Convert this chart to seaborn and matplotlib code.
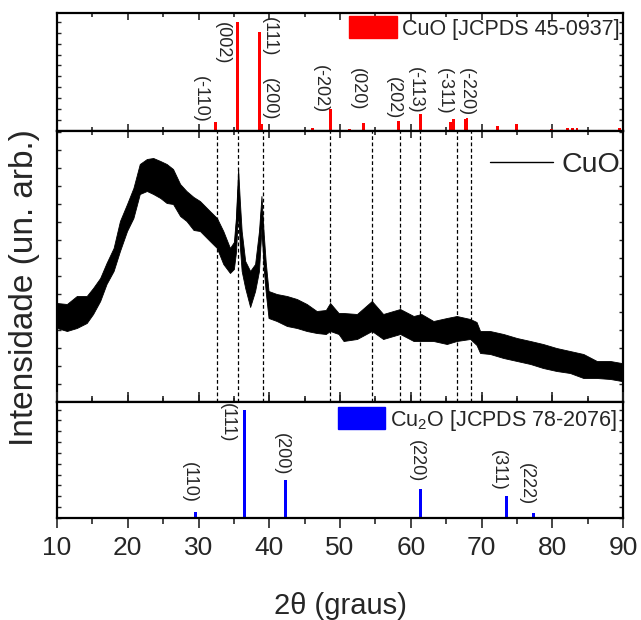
"""
XRD do filme de CuO com os padroes JCPDS de CuO e Cu2O.
"""
import numpy as np
import pandas as pd
import matplotlib
matplotlib.use("Agg")
import matplotlib.pyplot as plt
from matplotlib.patches import Patch
from matplotlib.lines import Line2D
from matplotlib.ticker import MultipleLocator
import seaborn as sns

# --- padrao CuO [JCPDS 45-0937] ---
cuo_pos = [32.45, 35.45, 38.65, 38.95, 46.1, 48.6, 51.3, 53.35, 58.25, 61.4, 65.6, 66.0,
           67.7, 67.95, 72.3, 75.0, 79.9, 82.1, 82.9, 83.5, 86.4, 89.5]
cuo_int = [8, 100, 91, 6, 2.5, 20, 1.5, 7, 9, 16, 8, 11, 11, 12, 5, 6, 2, 3, 2.5, 2.5, 1.2, 2.5]
cuo_lbl = ["(-110)", "(002)", "(111)", "(200)", "(-202)", "(020)", "(202)", "(-113)", "(-311)", "(-220)"]
cuo_lbl_x = [30.3, 33.4, 40.0, 40.0, 47.2, 52.4, 57.6, 60.7, 64.8, 67.8]
cuo_lbl_y = [50.3, 99.8, 104.3, 48.5, 60.4, 57.7, 49.4, 58.6, 57.7, 57.7]

# --- padrao Cu2O [JCPDS 78-2076] ---
cu2o_pos = [29.55, 36.45, 42.3, 52.45, 61.35, 65.55, 69.6, 73.5, 77.35, 84.8]
cu2o_int = [5.5, 100, 35, 1.2, 26.5, 0.6, 0.6, 20.4, 4.6, 0.9]
cu2o_lbl = ["(110)", "(111)", "(200)", "(220)", "(311)", "(222)"]
cu2o_lbl_x = [28.7, 34.1, 41.7, 60.8, 72.4, 76.4]
cu2o_lbl_y = [51.5, 105.8, 78.2, 71.8, 62.6, 50.6]

# --- difratograma medido (envoltoria superior / inferior do ruido) ---
two_theta = [10.0, 11.4, 12.8, 14.2, 15.1, 16.1, 17.0, 18.0, 18.9, 19.9, 20.8, 21.7, 22.7,
             23.6, 24.6, 25.5, 26.4, 27.4, 28.3, 29.3, 30.2, 31.6, 32.6, 33.5, 34.45, 35.0,
             35.3, 35.6, 35.85, 36.1, 36.6, 37.3, 38.0, 38.55, 38.9, 39.2, 39.5, 39.9, 41.05,
             42.5, 43.9, 45.3, 46.7, 48.0, 48.6, 49.8, 50.5, 52.4, 54.5, 56.1, 58.5, 60.4,
             61.5, 63.2, 65.1, 66.5, 68.4, 69.3, 69.8, 71.2, 73.1, 75.0, 76.9, 78.7, 80.6,
             82.5, 84.4, 86.3, 88.2, 89.8]
int_upper = [99, 98, 106, 106, 114, 124, 139, 154, 181, 198, 214, 238, 243, 244, 241, 238,
             233, 218, 211, 205, 201, 191, 184, 171, 154, 160, 185, 233, 200, 171, 141, 131,
             138, 171, 206, 170, 140, 111, 108, 106, 103, 98, 91, 92, 99, 89, 89, 88, 101,
             88, 93, 86, 88, 81, 84, 86, 83, 80, 71, 71, 68, 64, 61, 58, 54, 51, 48, 41, 41, 39]
int_lower = [74, 71, 74, 79, 88, 101, 118, 131, 151, 171, 184, 208, 211, 208, 204, 199,
             198, 186, 181, 172, 171, 161, 154, 138, 129, 133, 150, 191, 155, 131, 114, 95,
             111, 131, 174, 135, 110, 84, 81, 76, 74, 71, 69, 68, 71, 68, 61, 63, 71, 63,
             68, 61, 61, 61, 58, 61, 63, 57, 49, 48, 44, 41, 38, 34, 31, 29, 24, 24, 23, 21]

# linhas de referencia (picos do CuO)
ref_lines = [32.57, 35.63, 39.07, 48.59, 54.48, 58.48, 61.31, 66.58, 68.47]

sns.set_theme(style="white")
plt.rcParams["font.family"] = ["Liberation Sans", "DejaVu Sans"]
plt.rcParams["mathtext.fontset"] = "custom"
plt.rcParams["mathtext.rm"] = "Liberation Sans"
plt.rcParams["axes.linewidth"] = 1.6
plt.rcParams["axes.edgecolor"] = "black"

fig = plt.figure(figsize=(6.41, 6.2), dpi=100)
gs = fig.add_gridspec(3, 1, height_ratios=[118, 271, 116], hspace=0,
                      left=57 / 641, right=623 / 641, bottom=1 - 518 / 620, top=1 - 13 / 620)
ax_top = fig.add_subplot(gs[0])
ax_mid = fig.add_subplot(gs[1], sharex=ax_top)
ax_bot = fig.add_subplot(gs[2], sharex=ax_top)

bar_w = 0.42

# painel superior: CuO
df_cuo = pd.DataFrame({"pos": cuo_pos, "int": cuo_int})
w = bar_w / np.min(np.diff(np.unique(cuo_pos)))
sns.barplot(data=df_cuo, x="pos", y="int", native_scale=True, width=w,
            color="#ff0000", saturation=1, linewidth=0, ax=ax_top)
for t, x, y in zip(cuo_lbl, cuo_lbl_x, cuo_lbl_y):
    ax_top.text(x, y, t, rotation=-90, ha="center", va="top", fontsize=13)
ax_top.set_ylim(0, 108)
ax_top.legend(handles=[Patch(color="#ff0000")], labels=["CuO [JCPDS 45-0937]"],
              loc="upper right", fontsize=15.5, frameon=False, handlelength=2.2,
              handleheight=1.2, handletextpad=0.25, borderaxespad=0.0, borderpad=0.15)

# painel central: medida
df_xrd = pd.DataFrame({"2theta": two_theta * 2, "I": int_upper + int_lower})
sns.lineplot(data=df_xrd, x="2theta", y="I", estimator="mean", errorbar=("pi", 100),
             color="black", linewidth=0.8, err_kws={"alpha": 1, "linewidth": 0.6,
                                                     "edgecolor": "black"}, ax=ax_mid)
for x in ref_lines:
    ax_mid.axvline(x, color="black", linestyle=(0, (3, 2)), linewidth=0.9)
ax_mid.set_ylim(0, 271)
ax_mid.legend(handles=[Line2D([], [], color="black", linewidth=1)], labels=["CuO"],
              loc="upper right", bbox_to_anchor=(1.0, 0.933), fontsize=20.5, frameon=False,
              handlelength=2.2, handletextpad=0.3, borderaxespad=0.0, borderpad=0.1)

# painel inferior: Cu2O
df_cu2o = pd.DataFrame({"pos": cu2o_pos, "int": cu2o_int})
w = bar_w / np.min(np.diff(np.unique(cu2o_pos)))
sns.barplot(data=df_cu2o, x="pos", y="int", native_scale=True, width=w,
            color="#0000ff", saturation=1, linewidth=0, ax=ax_bot)
for t, x, y in zip(cu2o_lbl, cu2o_lbl_x, cu2o_lbl_y):
    ax_bot.text(x, y, t, rotation=-90, ha="center", va="top", fontsize=13)
ax_bot.set_ylim(0, 107)
ax_bot.legend(handles=[Patch(color="#0000ff")], labels=["Cu$_\\mathregular{2}$O [JCPDS 78-2076]"],
              loc="upper right", fontsize=15.5, frameon=False, handlelength=2.2,
              handleheight=1.2, handletextpad=0.25, borderaxespad=0.1, borderpad=0.15)

# eixos
ystep = {ax_top: 10, ax_mid: 18, ax_bot: 10}
for ax in (ax_top, ax_mid, ax_bot):
    ax.set_xlim(10, 90)
    ax.xaxis.set_major_locator(MultipleLocator(10))
    ax.xaxis.set_minor_locator(MultipleLocator(5))
    ax.yaxis.set_major_locator(MultipleLocator(ystep[ax]))
    ax.tick_params(axis="x", which="both", direction="in", top=True, bottom=True,
                   labelbottom=False, width=1.2)
    ax.tick_params(axis="x", which="major", length=5)
    ax.tick_params(axis="x", which="minor", length=3)
    ax.tick_params(axis="y", which="both", direction="in", left=True, right=True,
                   labelleft=False, length=3, width=1)
    ax.set_xlabel("")
    ax.set_ylabel("")
    for s in ax.spines.values():
        s.set_color("black")

ax_bot.tick_params(axis="x", which="both", direction="out", labelbottom=True,
                   labelsize=19, pad=6)
ax_bot.tick_params(axis="x", which="major", length=7)
ax_bot.tick_params(axis="x", which="minor", length=4)
ax_bot.tick_params(axis="x", which="both", top=True)

fig.text(0.5 * (57 + 623) / 641, 1 - 606 / 620, "2θ (graus)", ha="center", va="center", fontsize=21)
fig.text(25 / 641, 1 - 288 / 620, "Intensidade (un. arb.)", rotation=90,
         ha="center", va="center", fontsize=24)

fig.savefig("out.png", dpi=100)
